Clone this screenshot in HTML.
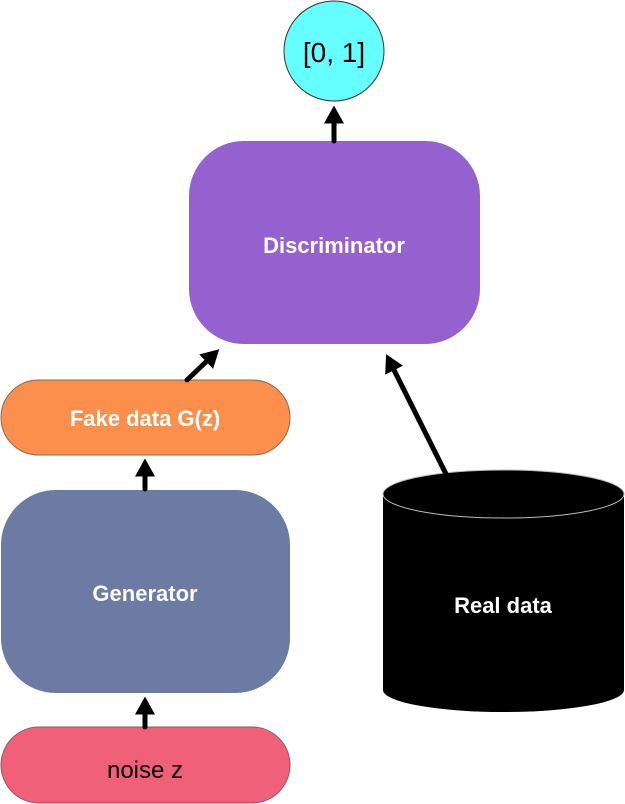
<!DOCTYPE html>
<html><head><meta charset="utf-8"><style>
html,body{margin:0;padding:0;background:#fff;}
svg{display:block;}
text{font-family:"Liberation Sans",Arial,sans-serif;}
</style></head><body>
<svg width="625" height="804" viewBox="0 0 625 804" xmlns="http://www.w3.org/2000/svg">
<defs>
<marker id="ah" markerWidth="4" markerHeight="4" refX="0.5" refY="2" orient="auto" markerUnits="strokeWidth">
<path d="M0,0 L3.6,2 L0,4 Z" fill="#000"/>
</marker>
</defs>
<!-- circle -->
<circle cx="334" cy="51" r="50" fill="#66ffff" stroke="#333" stroke-width="1"/>
<text x="334" y="62" font-size="28" text-anchor="middle" fill="#000">[0, 1]</text>
<!-- discriminator -->
<rect x="189" y="141" width="291" height="203" rx="55" ry="55" fill="#9561cf"/>
<text x="334" y="253" font-size="22" font-weight="bold" text-anchor="middle" fill="#fff">Discriminator</text>
<!-- fake data -->
<rect x="1" y="380" width="289" height="75" rx="37.5" ry="37.5" fill="#fb8f4b" stroke="#8a6a55" stroke-width="1"/>
<text x="145" y="426" font-size="22" font-weight="bold" text-anchor="middle" fill="#fff">Fake data G(z)</text>
<!-- generator -->
<rect x="1" y="490" width="289" height="203" rx="55" ry="55" fill="#6b7ba3"/>
<text x="145" y="601" font-size="22" font-weight="bold" text-anchor="middle" fill="#fff">Generator</text>
<!-- noise -->
<rect x="1" y="727" width="289" height="76" rx="38" ry="38" fill="#f06078" stroke="#8a5a60" stroke-width="1"/>
<text x="145" y="778" font-size="24" text-anchor="middle" fill="#000">noise z</text>
<!-- real data cylinder -->
<path d="M383,494 L383,690 A120.5,22 0 0 0 624,690 L624,494 Z" fill="#000"/>
<ellipse cx="503.5" cy="494" rx="120.5" ry="24" fill="#000" stroke="#bbb" stroke-width="1"/>
<text x="503" y="613" font-size="22" font-weight="bold" text-anchor="middle" fill="#fff">Real data</text>
<!-- arrows -->
<g stroke="#000" stroke-width="5" stroke-linecap="round" fill="none">
<line x1="334" y1="141" x2="334" y2="121" marker-end="url(#ah)"/>
<line x1="187" y1="380" x2="208" y2="360" marker-end="url(#ah)"/>
<line x1="145" y1="489" x2="145" y2="474" marker-end="url(#ah)"/>
<line x1="446" y1="474" x2="393" y2="368" marker-end="url(#ah)"/>
<line x1="145" y1="727" x2="145" y2="712" marker-end="url(#ah)"/>
</g>
</svg>
</body></html>
